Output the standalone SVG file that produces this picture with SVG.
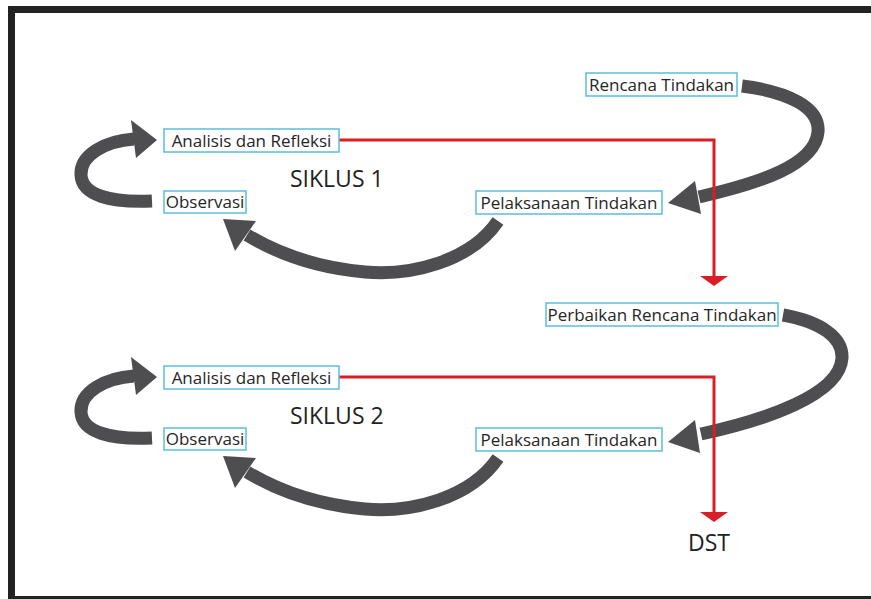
<svg xmlns="http://www.w3.org/2000/svg" width="871" height="599" viewBox="0 0 871 599">
<defs>
<style>
.frame{fill:#222222}
.box{fill:#ffffff;stroke:#5bbde0;stroke-width:1.5}
.lbl{font-family:"Open Sans","Noto Sans","Liberation Sans",sans-serif;font-size:17px;fill:#262626;text-anchor:middle}
.title{font-family:"Open Sans","Noto Sans","Liberation Sans",sans-serif;font-size:23px;fill:#222222}
.shaft{fill:none;stroke:#4e4e50;stroke-width:13;stroke-linecap:butt}
.head{fill:#4e4e50}
.red{fill:none;stroke:#d81f26;stroke-width:3}
</style>
<marker id="redhead" viewBox="0 -14 10 28" refX="0" refY="0" markerWidth="10" markerHeight="28" markerUnits="userSpaceOnUse" orient="auto">
<path d="M0,-14 L10,0 L0,14 z" fill="#d81f26"/>
</marker>
</defs>
<rect x="0" y="0" width="871" height="599" fill="#ffffff"/>
<g id="frame">
<rect class="frame" x="8" y="6" width="863" height="7"/>
<rect class="frame" x="8" y="6" width="7" height="593"/>
<rect class="frame" x="8" y="596" width="863" height="3"/>
</g>
<g id="connectors">
<path class="shaft" d="M152 201 C110 203,82 195,81 175 C80 155,105 141,134 139"/>
<polygon class="head" points="131,120 157,140 136,158"/>
<path class="shaft" d="M742 86 C790 92,820 108,818 132 C815 165,760 183,699 197"/>
<polygon class="head" points="668,203 695,181 701,214"/>
<path class="shaft" d="M498 221 C470 262,410 276,365 272 C320 268,280 255,247 235"/>
<polygon class="head" points="223,219 256,221 235,251"/>
<path class="red" d="M339 140 H714 V276" marker-end="url(#redhead)"/>
<path class="shaft" d="M152 438 C110 440,82 432,81 412 C80 392,105 378,134 376"/>
<polygon class="head" points="131,357 157,377 136,395"/>
<path class="shaft" d="M783 315 C822 322,843 338,842 358 C840 395,765 420,701 434"/>
<polygon class="head" points="668,442 695,420 700,453"/>
<path class="shaft" d="M498 458 C470 499,410 513,365 509 C320 505,280 492,247 472"/>
<polygon class="head" points="223,456 256,458 235,488"/>
<path class="red" d="M339 377 H714 V512" marker-end="url(#redhead)"/>
</g>
<g id="rencana">
<rect class="box" x="586" y="73" width="151" height="23"/>
<text class="lbl" x="661.5" y="90.5">Rencana Tindakan</text>
</g>
<g id="analisis1">
<rect class="box" x="164" y="129" width="175" height="23"/>
<text class="lbl" x="251.5" y="146.5">Analisis dan Refleksi</text>
</g>
<g id="observasi1">
<rect class="box" x="164" y="191" width="82" height="22"/>
<text class="lbl" x="205" y="208">Observasi</text>
</g>
<g id="pelaksanaan1">
<rect class="box" x="476" y="191" width="186" height="23"/>
<text class="lbl" x="569" y="208.5">Pelaksanaan Tindakan</text>
</g>
<g id="siklus1">
<text class="title" x="290" y="187">SIKLUS 1</text>
</g>
<g id="perbaikan">
<rect class="box" x="546" y="303" width="232" height="23"/>
<text class="lbl" x="662" y="320.5">Perbaikan Rencana Tindakan</text>
</g>
<g id="analisis2">
<rect class="box" x="164" y="366" width="175" height="23"/>
<text class="lbl" x="251.5" y="383.5">Analisis dan Refleksi</text>
</g>
<g id="observasi2">
<rect class="box" x="164" y="428" width="82" height="22"/>
<text class="lbl" x="205" y="445">Observasi</text>
</g>
<g id="pelaksanaan2">
<rect class="box" x="476" y="428" width="186" height="23"/>
<text class="lbl" x="569" y="445.5">Pelaksanaan Tindakan</text>
</g>
<g id="siklus2">
<text class="title" x="290" y="424">SIKLUS 2</text>
</g>
<g id="dst">
<text class="title" x="688" y="551">DST</text>
</g>
</svg>
